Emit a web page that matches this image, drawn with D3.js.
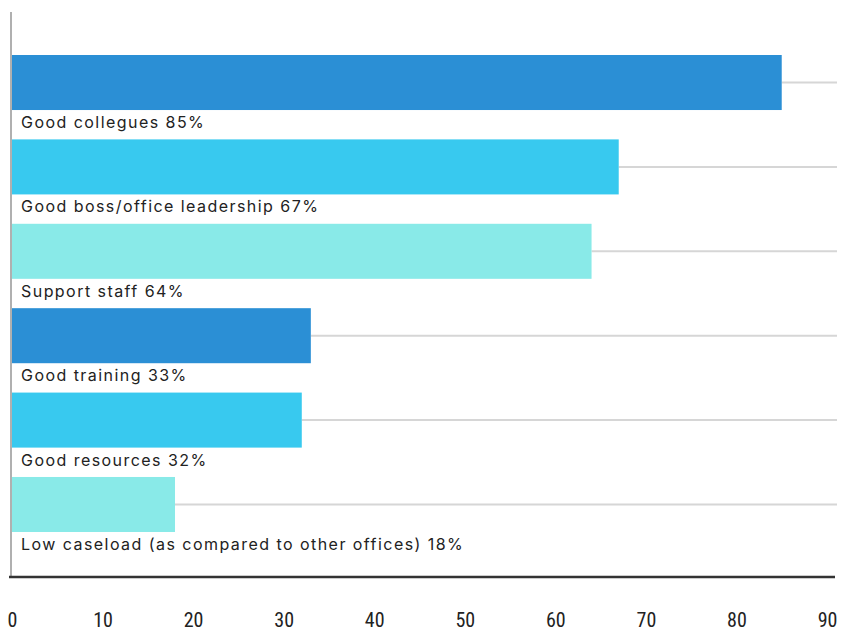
<!DOCTYPE html>
<html><head><meta charset="utf-8">
<script src="https://cdn.jsdelivr.net/npm/d3@7"></script>
<style>
html,body{margin:0;padding:0;background:#fff;}
svg{display:block;}
</style></head>
<body><svg id="chart" width="841" height="631"></svg>
<script>
const categories = ["Good collegues 85%","Good boss/office leadership 67%","Support staff 64%","Good training 33%","Good resources 32%","Low caseload (as compared to other offices) 18%"];
const values = [85, 67, 64, 33, 32, 18];
const barColors = ["#2b8fd5","#38c9ef","#89eae8","#2b8fd5","#38c9ef","#89eae8"];
const tickValues = [0,10,20,30,40,50,60,70,80,90];

const svg = d3.select("#chart");
const x = d3.scaleLinear().domain([0, 90]).range([12, 827]);
const y = d3.scaleBand().domain(categories).range([55, 532]).paddingInner(0.348).paddingOuter(0);

// grid lines from bar end
svg.selectAll("line.grid").data(categories).enter().append("line")
  .attr("x1", (d,i) => x(values[i])).attr("x2", 837)
  .attr("y1", d => y(d) + y.bandwidth()/2).attr("y2", d => y(d) + y.bandwidth()/2)
  .attr("stroke", "#d6d6d6").attr("stroke-width", 2);

// bars
svg.selectAll("rect.bar").data(categories).enter().append("rect")
  .attr("x", x(0)).attr("y", d => y(d))
  .attr("width", (d,i) => x(values[i]) - x(0)).attr("height", y.bandwidth())
  .attr("fill", (d,i) => barColors[i]);

// labels
svg.selectAll("text.lab").data(categories).enter().append("text")
  .attr("x", 21).attr("y", d => y(d) + y.bandwidth() + 18)
  .attr("font-family", "Inter, Lato, sans-serif").attr("font-size", 16)
  .attr("letter-spacing", 1.45)
  .attr("fill", "#222").text(d => d);

// vertical axis line
svg.append("line").attr("x1", 11).attr("x2", 11).attr("y1", 12).attr("y2", 577)
  .attr("stroke", "#b0b0b0").attr("stroke-width", 2);

// bottom axis
const xAxis = d3.axisBottom(x).tickValues(tickValues).tickSize(0).tickPadding(0).tickFormat(d3.format("d"));
const g = svg.append("g").attr("transform", "translate(0,577)").call(xAxis);
g.select(".domain").remove();
g.append("line").attr("x1", 9).attr("x2", 835).attr("y1", 0).attr("y2", 0)
  .attr("stroke", "#333").attr("stroke-width", 2.5);
g.selectAll(".tick text")
  .attr("y", 50).attr("dy", 0)
  .attr("font-family", "'Liberation Sans Narrow', 'Roboto Condensed', Roboto, sans-serif")
  .attr("font-size", 20).attr("fill", "#222");
</script></body></html>
